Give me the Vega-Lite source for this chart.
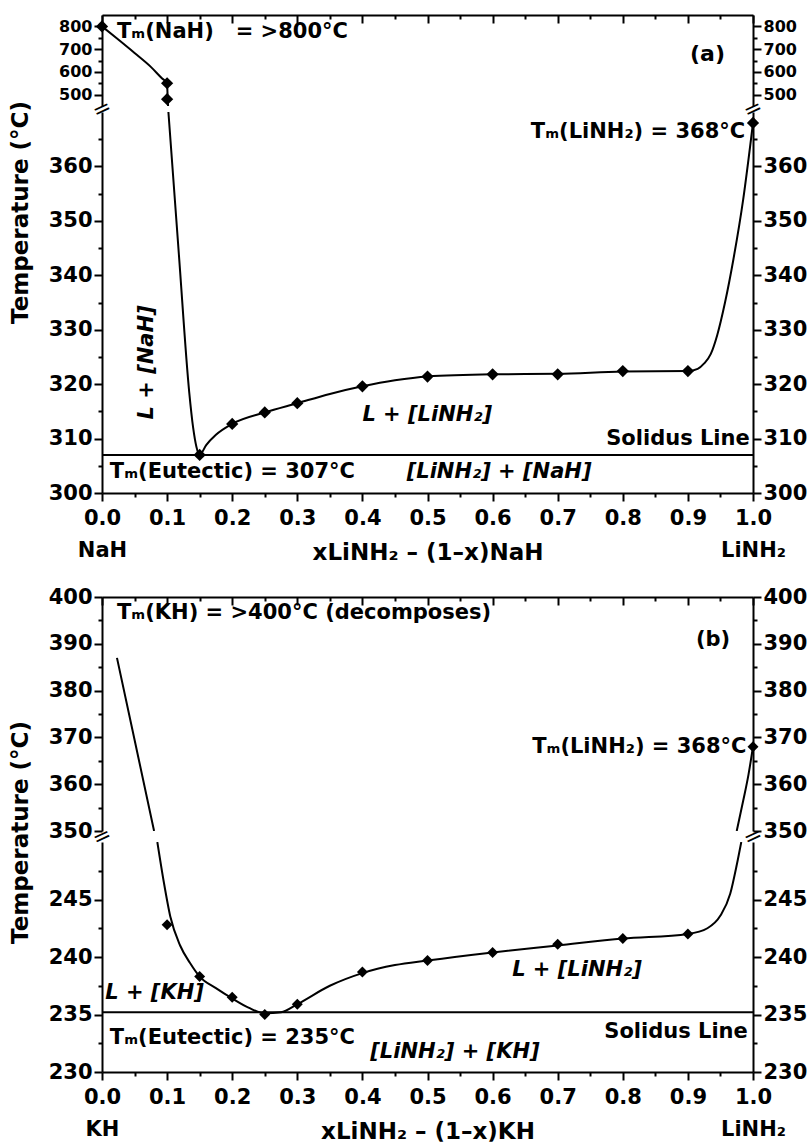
{
  "$schema": "https://vega.github.io/schema/vega-lite/v6.json",
  "padding": {"left": 8, "top": 14, "right": 2, "bottom": 5},
  "config": {
    "font": "DejaVu Sans",
    "view": {"stroke": null},
    "axis": {"labelFont": "DejaVu Sans", "labelFontWeight": "bold", "labelFontSize": 21, "labelColor": "black", "titleFont": "DejaVu Sans", "titleFontWeight": "bold", "titleFontSize": 23, "titleColor": "black", "domainColor": "black", "domainWidth": 2, "tickColor": "black", "tickWidth": 2, "grid": false, "labelPadding": 2, "labelOverlap": false, "labelFlush": false},
    "text": {"font": "DejaVu Sans", "fontWeight": "bold", "fontSize": 21, "color": "black", "baseline": "middle"}
  },
  "spacing": 22,
  "vconcat": [
    {
      "bounds": "flush",
      "spacing": 6,
      "vconcat": [
        {
          "width": 651, "height": 91,
          "layer": [
            {
              "data": {"values": [{"x": 0, "t": 800}, {"x": 0.025, "t": 742}, {"x": 0.05, "t": 683}, {"x": 0.075, "t": 622}, {"x": 0.092, "t": 572}, {"x": 0.1, "t": 550}, {"x": 0.1005, "t": 515}, {"x": 0.101, "t": 480}, {"x": 0.1015, "t": 450}]},
              "mark": {"type": "line", "color": "black", "strokeWidth": 2, "interpolate": "monotone", "clip": true},
              "encoding": {
                "x": {"field": "x", "type": "quantitative", "scale": {"domain": [0, 1], "nice": false},
                  "axis": {"orient": "top", "values": [0,0.05,0.1,0.15,0.2,0.25,0.3,0.35,0.4,0.45,0.5,0.55,0.6,0.65,0.7,0.75,0.8,0.85,0.9,0.95,1], "labels": false, "title": null,
                    "tickSize": {"condition": {"test": "abs(datum.value*10 - round(datum.value*10)) < 0.001", "value": -8}, "value": -4}}},
                "y": {"field": "t", "type": "quantitative", "scale": {"domain": [450, 850], "nice": false, "zero": false},
                  "axis": {"orient": "left", "values": [500,550,600,650,700,750,800], "labelFontSize": 16, "title": null,
                    "labelExpr": "datum.value % 100 == 0 ? datum.value : ''",
                    "tickSize": {"condition": {"test": "datum.value % 100 == 0", "value": 8}, "value": 4}}}
              }
            },
            {
              "data": {"values": [{"x": 0, "t": 800}, {"x": 0.1, "t": 550}, {"x": 0.1, "t": 480}]},
              "mark": {"type": "point", "shape": "diamond", "filled": true, "color": "black", "size": 150, "opacity": 1},
              "encoding": {
                "x": {"field": "x", "type": "quantitative", "axis": null},
                "y": {"field": "t", "type": "quantitative",
                  "axis": {"orient": "right", "values": [500,550,600,650,700,750,800], "labelFontSize": 16, "title": null,
                    "labelExpr": "datum.value % 100 == 0 ? datum.value : ''",
                    "tickSize": {"condition": {"test": "datum.value % 100 == 0", "value": 8}, "value": 4}}}
              }
            },
            {
              "data": {"values": [{"x": 0, "t": 437, "label": "="}, {"x": 1, "t": 437, "label": "="}]},
              "mark": {"type": "text", "align": "center", "fontWeight": "normal", "fontSize": 22, "angle": 335},
              "encoding": {
                "x": {"field": "x", "type": "quantitative", "axis": null},
                "y": {"field": "t", "type": "quantitative", "axis": null},
                "text": {"field": "label"}
              }
            },
            {
              "data": {"values": [{"x": 0.023, "t": 774, "label": "Tₘ(NaH)\u00a0\u00a0 = >800°C"}]},
              "mark": {"type": "text", "align": "left"},
              "encoding": {
                "x": {"field": "x", "type": "quantitative", "axis": null},
                "y": {"field": "t", "type": "quantitative", "axis": null},
                "text": {"field": "label"}
              }
            },
            {
              "data": {"values": [{"x": 0.957, "t": 680, "label": "(a)"}]},
              "mark": {"type": "text", "align": "right", "fontSize": 22},
              "encoding": {
                "x": {"field": "x", "type": "quantitative", "axis": null},
                "y": {"field": "t", "type": "quantitative", "axis": null},
                "text": {"field": "label"}
              }
            }
          ],
          "resolve": {"axis": {"x": "independent", "y": "independent"}}
        },
        {
          "width": 651, "height": 381,
          "layer": [
            {
              "data": {"values": [{"x": 0.102, "t": 370}, {"x": 0.118, "t": 344}, {"x": 0.134, "t": 318.5}, {"x": 0.14, "t": 312}, {"x": 0.145, "t": 308.5}, {"x": 0.15, "t": 307}, {"x": 0.16, "t": 308.8}, {"x": 0.175, "t": 310.7}, {"x": 0.2, "t": 312.7}, {"x": 0.25, "t": 314.8}, {"x": 0.3, "t": 316.5}, {"x": 0.35, "t": 318.2}, {"x": 0.4, "t": 319.6}, {"x": 0.45, "t": 320.7}, {"x": 0.5, "t": 321.4}, {"x": 0.6, "t": 321.8}, {"x": 0.7, "t": 321.9}, {"x": 0.8, "t": 322.3}, {"x": 0.9, "t": 322.4}, {"x": 0.915, "t": 322.8}, {"x": 0.925, "t": 323.8}, {"x": 0.935, "t": 325.5}, {"x": 0.945, "t": 329}, {"x": 0.957, "t": 335}, {"x": 0.97, "t": 343}, {"x": 0.985, "t": 354}, {"x": 1.0, "t": 368}]},
              "mark": {"type": "line", "color": "black", "strokeWidth": 2, "interpolate": "monotone", "clip": true},
              "encoding": {
                "x": {"field": "x", "type": "quantitative", "scale": {"domain": [0, 1], "nice": false},
                  "axis": {"orient": "bottom", "values": [0,0.05,0.1,0.15,0.2,0.25,0.3,0.35,0.4,0.45,0.5,0.55,0.6,0.65,0.7,0.75,0.8,0.85,0.9,0.95,1],
                    "labelExpr": "datum.value == 0 ? ['0.0','NaH'] : datum.value == 1 ? ['1.0','LiNH₂'] : (abs(datum.value*10 - round(datum.value*10)) < 0.001 ? format(datum.value, '.1f') : '')",
                    "labelLineHeight": 32, "labelPadding": 6, "labelFontSize": 21,
                    "title": "xLiNH₂ – (1–x)NaH", "titleY": 59, "titleBaseline": "middle",
                    "tickSize": {"condition": {"test": "abs(datum.value*10 - round(datum.value*10)) < 0.001", "value": 8}, "value": 4}}},
                "y": {"field": "t", "type": "quantitative", "scale": {"domain": [300, 370], "nice": false, "zero": false},
                  "axis": {"orient": "left", "values": [300,305,310,315,320,325,330,335,340,345,350,355,360,365], "title": "Temperature (°C)", "titleX": -70, "titleY": 100,
                    "labelExpr": "datum.value % 10 == 0 ? datum.value : ''",
                    "tickSize": {"condition": {"test": "datum.value % 10 == 0", "value": 8}, "value": 4}}}
              }
            },
            {
              "data": {"values": [{"x": 0.15, "t": 307}, {"x": 0.2, "t": 312.7}, {"x": 0.25, "t": 314.8}, {"x": 0.3, "t": 316.5}, {"x": 0.4, "t": 319.6}, {"x": 0.5, "t": 321.4}, {"x": 0.6, "t": 321.8}, {"x": 0.7, "t": 321.8}, {"x": 0.8, "t": 322.4}, {"x": 0.9, "t": 322.4}, {"x": 1.0, "t": 368}]},
              "mark": {"type": "point", "shape": "diamond", "filled": true, "color": "black", "size": 150, "opacity": 1},
              "encoding": {
                "x": {"field": "x", "type": "quantitative", "axis": null},
                "y": {"field": "t", "type": "quantitative",
                  "axis": {"orient": "right", "values": [300,305,310,315,320,325,330,335,340,345,350,355,360,365], "title": null,
                    "labelExpr": "datum.value % 10 == 0 ? datum.value : ''",
                    "tickSize": {"condition": {"test": "datum.value % 10 == 0", "value": 8}, "value": 4}}}
              }
            },
            {
              "data": {"values": [{"t": 307}]},
              "mark": {"type": "rule", "color": "black", "strokeWidth": 2},
              "encoding": {"y": {"field": "t", "type": "quantitative", "axis": null}}
            },
            {
              "data": {"values": [
                {"x": 0.988, "t": 366.4, "label": "Tₘ(LiNH₂) = 368°C"},
                {"x": 0.995, "t": 310, "label": "Solidus Line"}
              ]},
              "mark": {"type": "text", "align": "right"},
              "encoding": {
                "x": {"field": "x", "type": "quantitative", "axis": null},
                "y": {"field": "t", "type": "quantitative", "axis": null},
                "text": {"field": "label"}
              }
            },
            {
              "data": {"values": [
                {"x": 0.012, "t": 303.8, "label": "Tₘ(Eutectic) = 307°C"}
              ]},
              "mark": {"type": "text", "align": "left"},
              "encoding": {
                "x": {"field": "x", "type": "quantitative", "axis": null},
                "y": {"field": "t", "type": "quantitative", "axis": null},
                "text": {"field": "label"}
              }
            },
            {
              "data": {"values": [
                {"x": 0.40, "t": 314.3, "label": "L + [LiNH₂]"},
                {"x": 0.468, "t": 303.8, "label": "[LiNH₂] + [NaH]"}
              ]},
              "mark": {"type": "text", "align": "left", "fontStyle": "italic"},
              "encoding": {
                "x": {"field": "x", "type": "quantitative", "axis": null},
                "y": {"field": "t", "type": "quantitative", "axis": null},
                "text": {"field": "label"}
              }
            },
            {
              "data": {"values": [{"x": 0.069, "t": 324, "label": "L + [NaH]"}]},
              "mark": {"type": "text", "align": "center", "angle": 270, "fontStyle": "italic"},
              "encoding": {
                "x": {"field": "x", "type": "quantitative", "axis": null},
                "y": {"field": "t", "type": "quantitative", "axis": null},
                "text": {"field": "label"}
              }
            }
          ],
          "resolve": {"axis": {"x": "independent", "y": "independent"}}
        }
      ]
    },
    {
      "bounds": "flush",
      "spacing": 11,
      "vconcat": [
        {
          "width": 651, "height": 234,
          "layer": [
            {
              "data": {"values": [{"x": 0.023, "t": 387}, {"x": 0.05, "t": 369.5}, {"x": 0.08, "t": 350}]},
              "mark": {"type": "line", "color": "black", "strokeWidth": 2, "clip": true},
              "encoding": {
                "x": {"field": "x", "type": "quantitative", "scale": {"domain": [0, 1], "nice": false},
                  "axis": {"orient": "top", "values": [0,0.05,0.1,0.15,0.2,0.25,0.3,0.35,0.4,0.45,0.5,0.55,0.6,0.65,0.7,0.75,0.8,0.85,0.9,0.95,1], "labels": false, "title": null,
                    "tickSize": {"condition": {"test": "abs(datum.value*10 - round(datum.value*10)) < 0.001", "value": -8}, "value": -4}}},
                "y": {"field": "t", "type": "quantitative", "scale": {"domain": [350, 400], "nice": false, "zero": false},
                  "axis": {"orient": "left", "values": [350,355,360,365,370,375,380,385,390,395,400], "title": "Temperature (°C)", "titleY": 235, "titleX": -70,
                    "labelExpr": "datum.value % 10 == 0 ? datum.value : ''",
                    "tickSize": {"condition": {"test": "datum.value % 10 == 0", "value": 8}, "value": 4}}}
              }
            },
            {
              "data": {"values": [{"x": 0.975, "t": 350}, {"x": 0.985, "t": 356.5}, {"x": 0.993, "t": 362}, {"x": 1.0, "t": 368}]},
              "mark": {"type": "line", "color": "black", "strokeWidth": 2, "interpolate": "monotone", "clip": true},
              "encoding": {
                "x": {"field": "x", "type": "quantitative", "axis": null},
                "y": {"field": "t", "type": "quantitative",
                  "axis": {"orient": "right", "values": [350,355,360,365,370,375,380,385,390,395,400], "title": null,
                    "labelExpr": "datum.value % 10 == 0 ? datum.value : ''",
                    "tickSize": {"condition": {"test": "datum.value % 10 == 0", "value": 8}, "value": 4}}}
              }
            },
            {
              "data": {"values": [{"x": 1.0, "t": 368}]},
              "mark": {"type": "point", "shape": "diamond", "filled": true, "color": "black", "size": 120, "opacity": 1},
              "encoding": {
                "x": {"field": "x", "type": "quantitative", "axis": null},
                "y": {"field": "t", "type": "quantitative", "axis": null}
              }
            },
            {
              "data": {"values": [{"x": 0, "t": 348.8, "label": "="}, {"x": 1, "t": 348.8, "label": "="}]},
              "mark": {"type": "text", "align": "center", "fontWeight": "normal", "fontSize": 22, "angle": 335},
              "encoding": {
                "x": {"field": "x", "type": "quantitative", "axis": null},
                "y": {"field": "t", "type": "quantitative", "axis": null},
                "text": {"field": "label"}
              }
            },
            {
              "data": {"values": [
                {"x": 0.023, "t": 396.6, "label": "Tₘ(KH) = >400°C (decomposes)"}
              ]},
              "mark": {"type": "text", "align": "left"},
              "encoding": {
                "x": {"field": "x", "type": "quantitative", "axis": null},
                "y": {"field": "t", "type": "quantitative", "axis": null},
                "text": {"field": "label"}
              }
            },
            {
              "data": {"values": [
                {"x": 0.965, "t": 390.8, "label": "(b)"},
                {"x": 0.99, "t": 368, "label": "Tₘ(LiNH₂) = 368°C"}
              ]},
              "mark": {"type": "text", "align": "right"},
              "encoding": {
                "x": {"field": "x", "type": "quantitative", "axis": null},
                "y": {"field": "t", "type": "quantitative", "axis": null},
                "text": {"field": "label"}
              }
            }
          ],
          "resolve": {"axis": {"x": "independent", "y": "independent"}}
        },
        {
          "width": 651, "height": 230,
          "layer": [
            {
              "data": {"values": [{"x": 0.085, "t": 250}, {"x": 0.095, "t": 246.5}, {"x": 0.105, "t": 243.5}, {"x": 0.12, "t": 241}, {"x": 0.135, "t": 239.5}, {"x": 0.15, "t": 238.3}, {"x": 0.175, "t": 237.3}, {"x": 0.2, "t": 236.4}, {"x": 0.225, "t": 235.6}, {"x": 0.25, "t": 235.1}, {"x": 0.275, "t": 235.2}, {"x": 0.3, "t": 235.9}, {"x": 0.35, "t": 237.5}, {"x": 0.4, "t": 238.6}, {"x": 0.45, "t": 239.3}, {"x": 0.5, "t": 239.7}, {"x": 0.6, "t": 240.4}, {"x": 0.7, "t": 241.0}, {"x": 0.8, "t": 241.6}, {"x": 0.9, "t": 242.0}, {"x": 0.93, "t": 242.5}, {"x": 0.95, "t": 243.6}, {"x": 0.965, "t": 245.5}, {"x": 0.975, "t": 248}, {"x": 0.982, "t": 250}]},
              "mark": {"type": "line", "color": "black", "strokeWidth": 2, "interpolate": "monotone", "clip": true},
              "encoding": {
                "x": {"field": "x", "type": "quantitative", "scale": {"domain": [0, 1], "nice": false},
                  "axis": {"orient": "bottom", "values": [0,0.05,0.1,0.15,0.2,0.25,0.3,0.35,0.4,0.45,0.5,0.55,0.6,0.65,0.7,0.75,0.8,0.85,0.9,0.95,1],
                    "labelExpr": "datum.value == 0 ? ['0.0','KH'] : datum.value == 1 ? ['1.0','LiNH₂'] : (abs(datum.value*10 - round(datum.value*10)) < 0.001 ? format(datum.value, '.1f') : '')",
                    "labelLineHeight": 32, "labelPadding": 6, "labelFontSize": 21,
                    "title": "xLiNH₂ – (1–x)KH", "titleY": 59, "titleBaseline": "middle",
                    "tickSize": {"condition": {"test": "abs(datum.value*10 - round(datum.value*10)) < 0.001", "value": 8}, "value": 4}}},
                "y": {"field": "t", "type": "quantitative", "scale": {"domain": [230, 250], "nice": false, "zero": false},
                  "axis": {"orient": "left", "values": [230,232.5,235,237.5,240,242.5,245,247.5], "title": null,
                    "labelExpr": "datum.value % 5 == 0 ? datum.value : ''",
                    "tickSize": {"condition": {"test": "datum.value % 5 == 0", "value": 8}, "value": 4}}}
              }
            },
            {
              "data": {"values": [{"x": 0.1, "t": 242.8}, {"x": 0.15, "t": 238.3}, {"x": 0.2, "t": 236.5}, {"x": 0.25, "t": 235.0}, {"x": 0.3, "t": 235.9}, {"x": 0.4, "t": 238.7}, {"x": 0.5, "t": 239.7}, {"x": 0.6, "t": 240.4}, {"x": 0.7, "t": 241.1}, {"x": 0.8, "t": 241.6}, {"x": 0.9, "t": 242.0}]},
              "mark": {"type": "point", "shape": "diamond", "filled": true, "color": "black", "size": 120, "opacity": 1},
              "encoding": {
                "x": {"field": "x", "type": "quantitative", "axis": null},
                "y": {"field": "t", "type": "quantitative",
                  "axis": {"orient": "right", "values": [230,232.5,235,237.5,240,242.5,245,247.5], "title": null,
                    "labelExpr": "datum.value % 5 == 0 ? datum.value : ''",
                    "tickSize": {"condition": {"test": "datum.value % 5 == 0", "value": 8}, "value": 4}}}
              }
            },
            {
              "data": {"values": [{"t": 235.2}]},
              "mark": {"type": "rule", "color": "black", "strokeWidth": 2},
              "encoding": {"y": {"field": "t", "type": "quantitative", "axis": null}}
            },
            {
              "data": {"values": [
                {"x": 0.005, "t": 236.9, "label": "L + [KH]"},
                {"x": 0.63, "t": 238.9, "label": "L + [LiNH₂]"},
                {"x": 0.412, "t": 231.7, "label": "[LiNH₂] + [KH]"}
              ]},
              "mark": {"type": "text", "align": "left", "fontStyle": "italic"},
              "encoding": {
                "x": {"field": "x", "type": "quantitative", "axis": null},
                "y": {"field": "t", "type": "quantitative", "axis": null},
                "text": {"field": "label"}
              }
            },
            {
              "data": {"values": [
                {"x": 0.012, "t": 233.0, "label": "Tₘ(Eutectic) = 235°C"}
              ]},
              "mark": {"type": "text", "align": "left"},
              "encoding": {
                "x": {"field": "x", "type": "quantitative", "axis": null},
                "y": {"field": "t", "type": "quantitative", "axis": null},
                "text": {"field": "label"}
              }
            },
            {
              "data": {"values": [
                {"x": 0.992, "t": 233.5, "label": "Solidus Line"}
              ]},
              "mark": {"type": "text", "align": "right"},
              "encoding": {
                "x": {"field": "x", "type": "quantitative", "axis": null},
                "y": {"field": "t", "type": "quantitative", "axis": null},
                "text": {"field": "label"}
              }
            }
          ],
          "resolve": {"axis": {"x": "independent", "y": "independent"}}
        }
      ]
    }
  ]
}
